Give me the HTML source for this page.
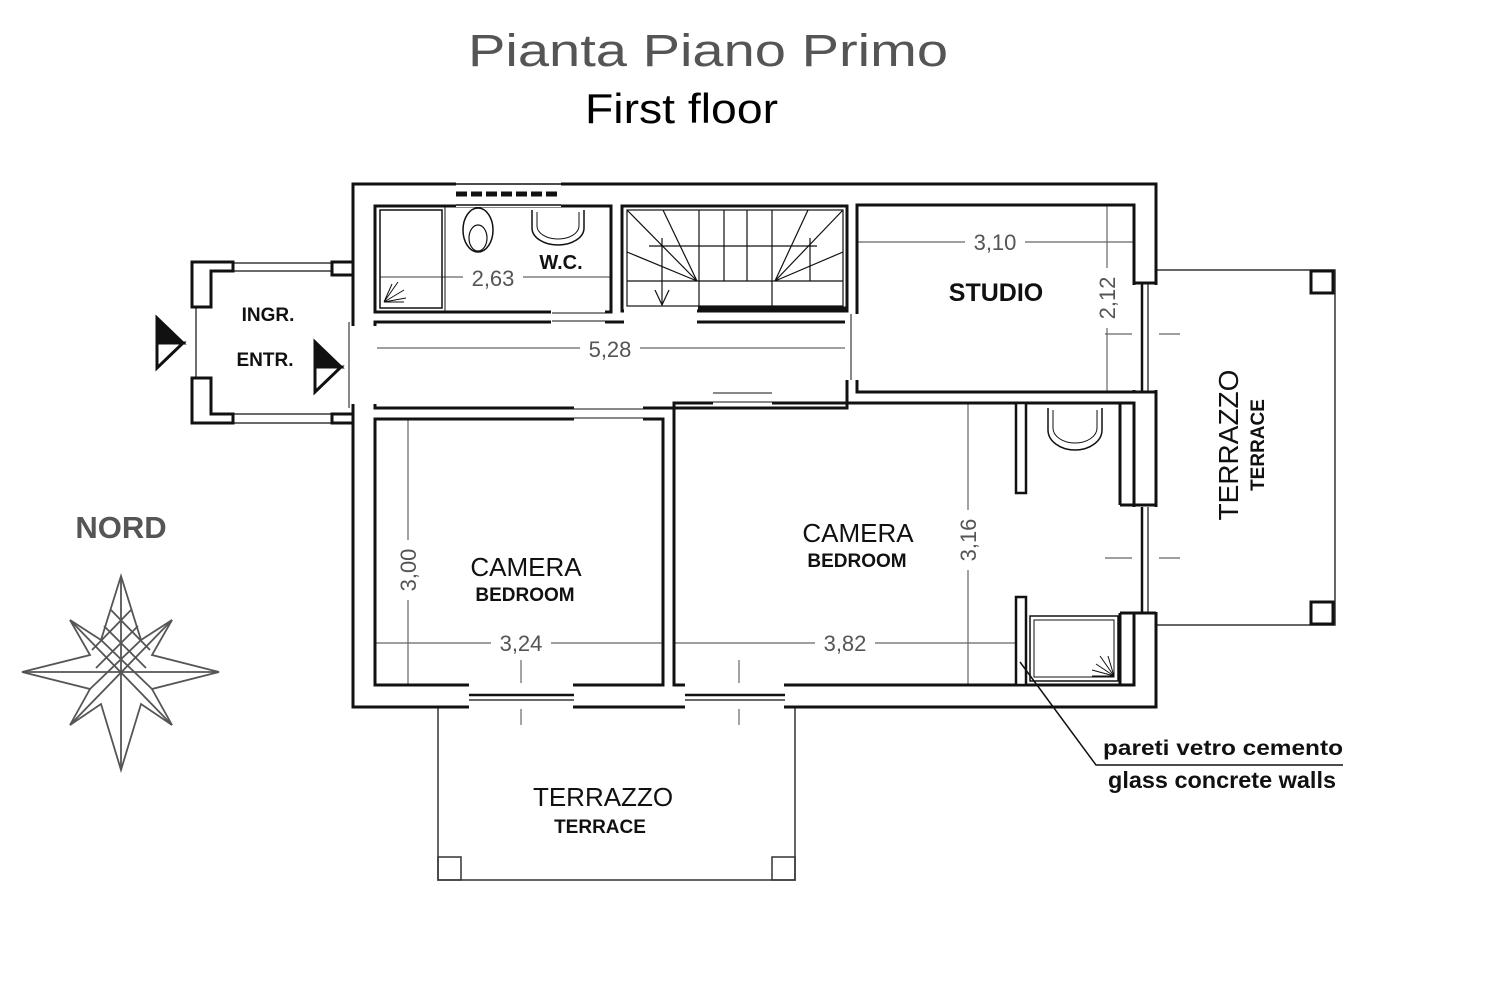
<!DOCTYPE html>
<html><head><meta charset="utf-8"><style>
html,body{margin:0;padding:0;background:#fff;}
svg{display:block;}
text{font-family:"Liberation Sans",sans-serif;}
.dim{fill:#555;font-size:22px;}
.lbl{font-weight:bold;fill:#111;}
</style></head><body>
<svg width="1500" height="1000" viewBox="0 0 1500 1000" xmlns="http://www.w3.org/2000/svg">
<rect width="1500" height="1000" fill="#fff"/>
<text x="468" y="66" font-size="45" fill="#555" textLength="480" lengthAdjust="spacingAndGlyphs">Pianta  Piano  Primo</text>
<text x="585" y="123" font-size="42" fill="#000" textLength="193" lengthAdjust="spacingAndGlyphs">First floor</text>

<g fill="none" stroke="#333" stroke-width="1.5">
<rect x="438" y="707" width="357" height="173"/>
<rect x="438" y="857" width="23" height="23"/>
<rect x="772" y="857" width="23" height="23"/>
<polyline points="1157,270 1335,270 1335,625 1157,625"/>
</g>
<g fill="#fff" stroke="#111" stroke-width="3">
<rect x="1311" y="271" width="22" height="22"/>
<rect x="1311" y="602" width="22" height="22"/>
</g>

<g stroke="#666" stroke-width="1.2" fill="none">
<line x1="380" y1="277" x2="611" y2="277"/>
<line x1="375" y1="348" x2="847" y2="348"/>
<line x1="857" y1="242" x2="1133" y2="242"/>
<line x1="1107" y1="205" x2="1107" y2="392"/>
<line x1="408" y1="419" x2="408" y2="685"/>
<line x1="375" y1="643" x2="663" y2="643"/>
<line x1="674" y1="643" x2="1016" y2="643"/>
<line x1="968" y1="403" x2="968" y2="685"/>
<line x1="521" y1="660" x2="521" y2="725"/>
<line x1="739" y1="660" x2="739" y2="725"/>
<line x1="1105" y1="334" x2="1180" y2="334"/>
<line x1="1105" y1="558" x2="1180" y2="558"/>
</g>

<g fill="none" stroke="#111" stroke-width="3">
<rect x="353" y="184" width="803" height="523"/>
<rect x="375" y="206" width="236" height="106"/>
<rect x="622" y="206" width="225" height="105"/>
<rect x="857" y="205" width="277" height="187"/>
<rect x="375" y="322" width="472" height="86"/>
<rect x="375" y="419" width="288" height="266"/>
<rect x="674" y="403" width="460" height="282"/>
</g>
<g fill="#fff">
<rect x="456" y="182" width="105" height="25"/>
<rect x="551" y="310" width="54" height="14"/>
<rect x="624" y="309" width="73" height="15"/>
<rect x="1132" y="285" width="27" height="105"/>
<rect x="1132" y="507" width="27" height="105"/>
<rect x="469" y="683" width="104" height="26"/>
<rect x="685" y="683" width="99" height="26"/>
<rect x="574" y="406" width="69" height="15"/>
<rect x="713" y="390" width="59" height="15"/>
<rect x="351" y="326" width="26" height="78"/>
<rect x="845" y="314" width="14" height="66"/>
</g>
<g stroke="#111" fill="none">
<line x1="456" y1="194" x2="561" y2="194" stroke-width="5" stroke-dasharray="11,4"/>
<line x1="456" y1="184" x2="561" y2="184" stroke-width="1.5"/>
<line x1="456" y1="205" x2="561" y2="205" stroke-width="1.5"/>
<line x1="1142" y1="284" x2="1142" y2="391" stroke-width="2.5"/>
<line x1="1148" y1="284" x2="1148" y2="391" stroke-width="1.2"/>
<line x1="1142" y1="507" x2="1142" y2="613" stroke-width="2.5"/>
<line x1="1148" y1="507" x2="1148" y2="613" stroke-width="1.2"/>
<line x1="469" y1="695" x2="574" y2="695" stroke-width="2.5"/>
<line x1="469" y1="700" x2="574" y2="700" stroke-width="1.2"/>
<line x1="685" y1="695" x2="785" y2="695" stroke-width="2.5"/>
<line x1="685" y1="700" x2="785" y2="700" stroke-width="1.2"/>
<line x1="574" y1="409" x2="643" y2="409" stroke-width="1"/>
<line x1="574" y1="418" x2="643" y2="418" stroke-width="1"/>
<line x1="713" y1="393" x2="772" y2="393" stroke-width="1"/>
<line x1="713" y1="402" x2="772" y2="402" stroke-width="1"/>
<line x1="349" y1="322" x2="349" y2="408" stroke-width="1"/>
<line x1="552" y1="313" x2="605" y2="313" stroke-width="1"/>
<line x1="552" y1="321" x2="605" y2="321" stroke-width="1"/>
<line x1="851" y1="314" x2="851" y2="380" stroke-width="1"/>
<line x1="1120" y1="403" x2="1120" y2="505" stroke-width="3"/>
<line x1="1120" y1="613" x2="1120" y2="685" stroke-width="3"/>
<line x1="1120" y1="505" x2="1156" y2="505" stroke-width="3"/>
<line x1="1120" y1="613" x2="1156" y2="613" stroke-width="3"/>
<line x1="1134" y1="283" x2="1156" y2="283" stroke-width="3"/>
<line x1="1134" y1="392" x2="1156" y2="392" stroke-width="3"/>
<rect x="1016" y="403" width="10" height="90" stroke-width="2.5" fill="#fff"/>
<rect x="1016" y="597" width="10" height="88" stroke-width="2.5" fill="#fff"/>
<rect x="1030" y="616" width="88" height="65" stroke-width="1.5"/>
<rect x="1034" y="620" width="80" height="57" stroke-width="1"/>
<rect x="380" y="210" width="62" height="98" stroke-width="1.5"/>
<line x1="445" y1="206" x2="445" y2="312" stroke-width="1"/>
<ellipse cx="478" cy="230" rx="15" ry="22" stroke-width="1.5"/>
<ellipse cx="478" cy="238" rx="9" ry="13" stroke-width="1.2"/>
<path d="M532,210 V228 A26,17 0 0 0 584,228 V210" stroke-width="1.5"/>
<path d="M537,212 V226 A21,13 0 0 0 579,226 V212" stroke-width="1"/>
<path d="M1048,408 V430 A27,20 0 0 0 1102,430 V408" stroke-width="1.5"/>
<path d="M1053,410 V428 A22,15 0 0 0 1097,428 V410" stroke-width="1"/>
<g stroke-width="1">
<path d="M384,302 L398,282 M384,302 L404,290 M384,302 L406,298 M384,302 L392,284 M384,302 L404,302"/>
<path d="M1114,676 L1100,656 M1114,676 L1096,664 M1114,676 L1092,670 M1114,676 L1108,656 M1114,676 L1092,676"/>
</g>
<g stroke-width="1.2">
<rect x="627" y="210" width="216" height="96"/>
<line x1="627" y1="281" x2="843" y2="281"/>
<line x1="649" y1="246" x2="817" y2="246"/>
<line x1="699" y1="210" x2="699" y2="306"/>
<line x1="724" y1="210" x2="724" y2="281"/>
<line x1="747" y1="210" x2="747" y2="281"/>
<line x1="772" y1="210" x2="772" y2="306"/>
<path d="M627,210 L697,281 L663,210 M627,252 L697,281 M775,281 L808,210 M775,281 L843,210 M775,281 L843,252"/>
<line x1="662" y1="238" x2="662" y2="305"/>
<path d="M655,290 L662,305 L669,290"/>
<line x1="810" y1="238" x2="810" y2="281"/>
</g>
<line x1="698" y1="308" x2="847" y2="308" stroke-width="3"/>
<polyline points="1020,662 1096,765 1343,765" stroke-width="1.5"/>
</g>

<g fill="#fff" stroke="#111" stroke-width="3">
<path d="M192,262 H233 V271 H211 V307 H192 Z"/>
<path d="M192,378 V423 H233 V414 H211 V378 Z"/>
<path d="M332,262 H353 V275 H332 Z"/>
<path d="M332,414 H353 V423 H332 Z"/>
</g>
<g stroke="#111" stroke-width="1.2">
<line x1="233" y1="263" x2="332" y2="263"/><line x1="233" y1="271" x2="332" y2="271"/>
<line x1="233" y1="414" x2="332" y2="414"/><line x1="233" y1="423" x2="332" y2="423"/>
<line x1="196" y1="307" x2="196" y2="378"/>
</g>
<g stroke="#111" stroke-width="3">
<path d="M157,318 L183,343 L157,343 Z" fill="#111"/>
<path d="M157,343 L183,343 L157,368 Z" fill="#fff"/>
<path d="M315,342 L341,367 L315,367 Z" fill="#111"/>
<path d="M315,367 L341,367 L315,392 Z" fill="#fff"/>
</g>

<text class="lbl" x="268" y="321" font-size="19" text-anchor="middle">INGR.</text>
<text class="lbl" x="265" y="366" font-size="19" text-anchor="middle">ENTR.</text>
<text class="lbl" x="561" y="269" font-size="20" text-anchor="middle">W.C.</text>
<g class="dim" text-anchor="middle">
<rect x="463" y="264" width="60" height="26" fill="#fff"/>
<text x="493" y="286">2,63</text>
<rect x="580" y="335" width="60" height="26" fill="#fff"/>
<text x="610" y="357">5,28</text>
<rect x="965" y="229" width="60" height="26" fill="#fff"/>
<text x="995" y="250">3,10</text>
<rect x="491" y="630" width="60" height="26" fill="#fff"/>
<text x="521" y="651">3,24</text>
<rect x="815" y="630" width="60" height="26" fill="#fff"/>
<text x="845" y="651">3,82</text>
<rect x="1094" y="268" width="26" height="60" fill="#fff"/>
<text transform="translate(1115,298) rotate(-90)">2,12</text>
<rect x="395" y="540" width="26" height="60" fill="#fff"/>
<text transform="translate(416,570) rotate(-90)">3,00</text>
<rect x="955" y="510" width="26" height="60" fill="#fff"/>
<text transform="translate(976,540) rotate(-90)">3,16</text>
</g>
<text class="lbl" x="996" y="301" font-size="25" text-anchor="middle">STUDIO</text>
<text x="526" y="576" font-size="26" text-anchor="middle" fill="#111">CAMERA</text>
<text class="lbl" x="525" y="601" font-size="19" text-anchor="middle">BEDROOM</text>
<text x="858" y="542" font-size="26" text-anchor="middle" fill="#111">CAMERA</text>
<text class="lbl" x="857" y="567" font-size="19" text-anchor="middle">BEDROOM</text>
<text x="603" y="806" font-size="26" text-anchor="middle" fill="#111">TERRAZZO</text>
<text class="lbl" x="600" y="833" font-size="19" text-anchor="middle">TERRACE</text>
<text x="0" y="0" font-size="28" text-anchor="middle" fill="#111" transform="translate(1238,445) rotate(-90)">TERRAZZO</text>
<text class="lbl" x="0" y="0" font-size="19" text-anchor="middle" transform="translate(1264,445) rotate(-90)">TERRACE</text>
<text x="1103" y="755" font-size="21" fill="#111" textLength="240" lengthAdjust="spacingAndGlyphs" style="font-weight:bold">pareti  vetro  cemento</text>
<text class="lbl" x="1108" y="788" font-size="23" textLength="228" lengthAdjust="spacingAndGlyphs">glass concrete walls</text>

<text x="121" y="538" font-size="31" font-weight="bold" fill="#555" text-anchor="middle">NORD</text>
<g stroke="#555" stroke-width="1.8" fill="none">
<polygon points="121,576 141,640 172,620 152,655 219,672 152,689 172,725 141,704 121,770 101,704 70,725 90,689 22,672 90,655 70,620 101,640"/>
<line x1="22" y1="672" x2="219" y2="672"/>
<line x1="121" y1="576" x2="121" y2="770"/>
<line x1="70" y1="620" x2="172" y2="725"/>
<line x1="172" y1="620" x2="70" y2="725"/>
<path d="M101,640 L152,689 M141,640 L90,689 M111,610 L150,650 M131,610 L92,650 M104,626 L146,668 M138,626 L96,668"/>
</g>
</svg>
</body></html>
